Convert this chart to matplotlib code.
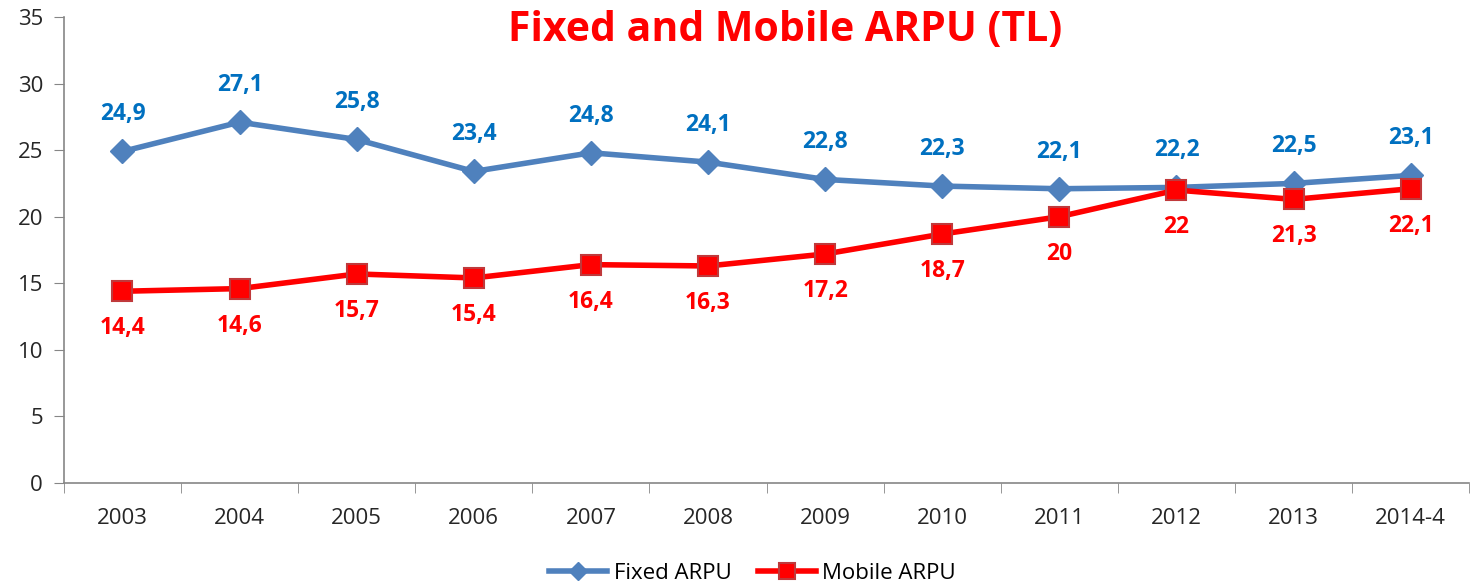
import matplotlib.pyplot as plt
import numpy as np

years = ['2003', '2004', '2005', '2006', '2007', '2008', '2009', '2010', '2011', '2012', '2013', '2014-4']
fixed_arpu = [24.9, 27.1, 25.8, 23.4, 24.8, 24.1, 22.8, 22.3, 22.1, 22.2, 22.5, 23.1]
mobile_arpu = [14.4, 14.6, 15.7, 15.4, 16.4, 16.3, 17.2, 18.7, 20, 22, 21.3, 22.1]

plt.rcParams['font.family'] = ['Open Sans', 'DejaVu Sans']

fig = plt.figure(figsize=(14.7, 5.88), dpi=100)
ax = fig.add_axes([0.0435, 0.1786, 0.956, 0.7925])

x = np.arange(len(years))
ax.plot(x, fixed_arpu, color='#4F81BD', linewidth=4, marker='D', markersize=12,
        markerfacecolor='#4F81BD', markeredgecolor='#4F81BD', label='Fixed ARPU', zorder=3)
ax.plot(x, mobile_arpu, color='#FF0000', linewidth=4, marker='s', markersize=15,
        markerfacecolor='#FF0000', markeredgecolor='#C0393B', markeredgewidth=1.5,
        label='Mobile ARPU', zorder=4)

def fmt(v):
    return ('%g' % v).replace('.', ',')

for xi, v in zip(x, fixed_arpu):
    ax.annotate(fmt(v), (xi, v), xytext=(0, 18), textcoords='offset points',
                ha='center', va='bottom', color='#0070C0', fontsize=16.5, fontweight='bold')
for xi, v in zip(x, mobile_arpu):
    ax.annotate(fmt(v), (xi, v), xytext=(0, -18), textcoords='offset points',
                ha='center', va='top', color='#FF0000', fontsize=16.5, fontweight='bold')

ax.set_xlim(-0.5, len(years) - 0.5)
ax.set_ylim(0, 35)
ax.set_yticks(range(0, 36, 5))
ax.set_xticks(x)
ax.set_xticklabels(years)
ax.set_xticks(np.arange(-0.5, len(years), 1), minor=True)
ax.tick_params(axis='x', which='major', length=0, labelsize=16, pad=18, colors='#262626')
ax.tick_params(axis='x', which='minor', length=7, color='#868686')
ax.tick_params(axis='y', length=7, color='#868686', labelsize=16, labelcolor='#262626', pad=8)

for side in ['top', 'right']:
    ax.spines[side].set_visible(False)
for side in ['left', 'bottom']:
    ax.spines[side].set_color('#868686')
    ax.spines[side].set_linewidth(1.2)

fig.text(0.534, 0.948, 'Fixed and Mobile ARPU (TL)', ha='center', va='center',
         color='#FF0000', fontsize=29.5, fontweight='bold')

fig.legend(loc='center', bbox_to_anchor=(0.512, 0.025), ncol=2, frameon=False,
           fontsize=16, handlelength=2.6, columnspacing=1.2, handletextpad=0.3,
           markerscale=0.8)

fig.savefig('out.png', dpi=100, facecolor='white')
